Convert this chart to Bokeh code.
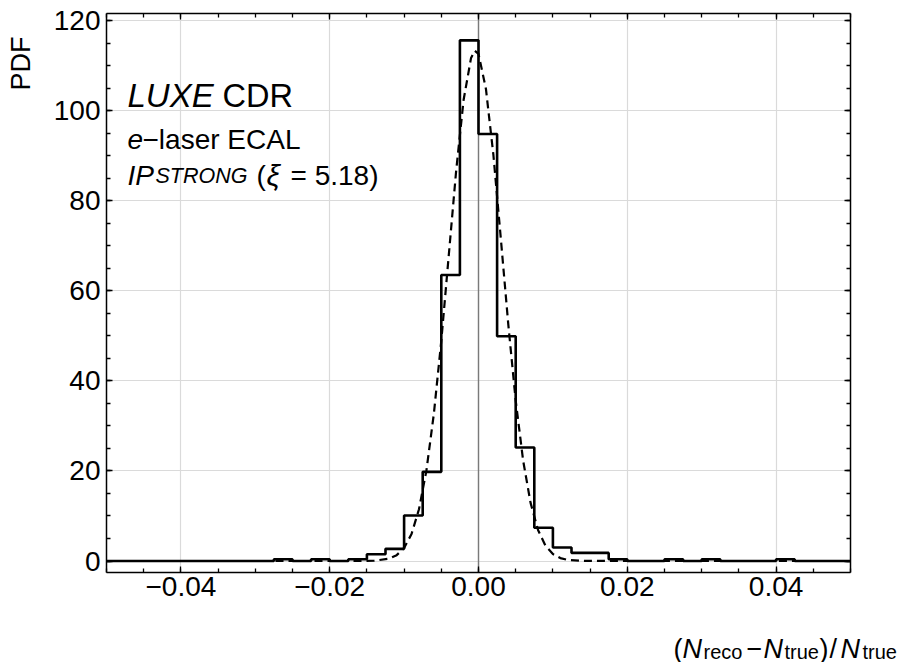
import numpy as np
from bokeh.plotting import figure
from bokeh.models import (Label, FixedTicker, LinearAxis, Range1d, Grid,
                          CustomJSTickFormatter)
from bokeh.embed import file_html
from bokeh.resources import INLINE

# ---------------- data ----------------
bin_start = -0.05
bin_width = 0.0025
pdf_values = [0, 0, 0, 0, 0, 0, 0, 0, 0, 0.4,
              0, 0.4, 0, 0.4, 1.5, 2.7, 10.1, 19.8, 63.5, 115.6,
              94.8, 49.9, 25.2, 7.4, 3.0, 1.8, 1.8, 0.4, 0, 0,
              0.4, 0, 0.4, 0, 0, 0, 0.4, 0, 0, 0]

fit_x = [-0.05, -0.02, -0.016, -0.014, -0.012, -0.011, -0.010, -0.009, -0.008, -0.007,
         -0.006, -0.005, -0.004, -0.003, -0.002, -0.001, -0.0005, 0.000, 0.001,
         0.002, 0.003, 0.004, 0.005, 0.006, 0.007, 0.008, 0.009, 0.010, 0.011,
         0.012, 0.014, 0.02, 0.05]
fit_y = [0, 0, 0.01, 0.07, 0.54, 1.3, 2.9, 6.0, 11.5, 20.1,
         32.7, 48.9, 67.8, 86.7, 102.4, 111.7, 113.3, 112.6, 104.8,
         90.2, 71.6, 52.6, 35.6, 22.3, 12.9, 6.9, 3.4, 1.55, 0.65,
         0.25, 0.03, 0, 0]

x_major = [-0.04, -0.02, 0.0, 0.02, 0.04]
y_major = [0, 20, 40, 60, 80, 100, 120]

# ---------------- geometry ----------------
FONT = "Liberation Sans"
W, H = 902, 662
X0, X1 = -0.05, 0.05          # plot box in data units
Y0, Y1 = -2.55, 121.56
BOX_L, BOX_R = 106, 850       # plot box in pixels
BOX_T, BOX_B = 13, 572
xpx = (BOX_R - BOX_L) / (X1 - X0)
ypx = (BOX_B - BOX_T) / (Y1 - Y0)
x_range = Range1d(X0 - BOX_L / xpx, X1 + (W - BOX_R) / xpx)
y_range = Range1d(Y0 - (H - BOX_B) / ypx, Y1 + BOX_T / ypx)

p = figure(width=W, height=H, output_backend="svg", toolbar_location=None,
           x_range=x_range, y_range=y_range, title=None,
           x_axis_type=None, y_axis_type=None,
           min_border_left=0, min_border_right=0, min_border_top=0,
           min_border_bottom=0)
p.outline_line_color = None
p.background_fill_color = "white"
p.border_fill_color = "white"

x_minor = [round(-0.05 + 0.005 * i, 4) for i in range(21)]
y_minor = [5 * i for i in range(25)]
xt = FixedTicker(ticks=x_major, minor_ticks=x_minor)
yt = FixedTicker(ticks=y_major, minor_ticks=y_minor)

xfmt = CustomJSTickFormatter(
    code="return (tick < -1e-9 ? '\u2212' : '') + Math.abs(tick).toFixed(2);")


def make_axis(ticker, loc, bounds, labels, fmt=None):
    kw = dict(ticker=ticker, fixed_location=loc, bounds=bounds)
    if fmt is not None:
        kw["formatter"] = fmt
    ax = LinearAxis(**kw)
    ax.axis_line_color = "black"
    ax.axis_line_width = 1.5
    ax.major_tick_in = 6
    ax.major_tick_out = 0
    ax.minor_tick_in = 4
    ax.minor_tick_out = 0
    ax.major_tick_line_color = "black"
    ax.minor_tick_line_color = "black"
    ax.major_tick_line_width = 1.3
    ax.minor_tick_line_width = 1.3
    if labels:
        ax.major_label_text_font = FONT
        ax.major_label_text_font_size = "28px"
        ax.major_label_text_color = "black"
    else:
        ax.major_label_text_color = None
        ax.major_label_standoff = 0
    return ax


bx = make_axis(xt, Y0, (X0, X1), True, xfmt)
bx.major_label_standoff = 4
tx = make_axis(xt, Y1, (X0, X1), False, xfmt)
ly = make_axis(yt, X0, (Y0, Y1), True)
ly.major_label_standoff = 6
ry = make_axis(yt, X1, (Y0, Y1), False)
p.add_layout(bx, "below")
p.add_layout(tx, "above")
p.add_layout(ly, "left")
p.add_layout(ry, "right")

p.add_layout(Grid(dimension=0, ticker=xt, bounds=(X0, X1), cross_bounds=(Y0, Y1),
                  grid_line_color="#dadada", grid_line_width=1.2))
p.add_layout(Grid(dimension=1, ticker=yt, bounds=(Y0, Y1), cross_bounds=(X0, X1),
                  grid_line_color="#dadada", grid_line_width=1.2))
p.add_layout(Grid(dimension=0, ticker=FixedTicker(ticks=[0.0]), cross_bounds=(Y0, Y1),
                  grid_line_color="#7a7a7a", grid_line_width=1.4))

# histogram outline (step)
edges = [bin_start + bin_width * i for i in range(len(pdf_values) + 1)]
p.step(x=edges, y=pdf_values + [pdf_values[-1]], mode="after",
       line_color="black", line_width=2.6)

# fitted curve
p.line(x=fit_x, y=fit_y, line_color="black", line_width=2.2, line_dash="8 5")


# ---------------- texts ----------------
def txt(s, px, py, size, style="normal", angle=0.0):
    p.add_layout(Label(x=px, y=H - py, x_units="screen", y_units="screen",
                       text=s, text_font=FONT, text_font_size=f"{size}px",
                       text_font_style=style, text_color="black",
                       text_baseline="alphabetic", text_align="left", angle=angle))


# y label
txt("PDF", 20, 90, 27, angle=np.pi / 2)

# annotation block
txt("LUXE", 127, 95, 33, "italic")
txt("CDR", 222, 95, 32.5)
txt("e", 127, 139, 28, "italic")
txt("\u2212laser ECAL", 142, 139, 28)
txt("IP", 127, 175, 28, "italic")
txt("STRONG", 155, 175, 21.5, "italic")
txt("(", 256, 175, 28)
txt("\u03be", 266, 175, 30, "italic")
txt("= 5.18)", 290, 175, 28)

# x label
txt("(", 673, 648, 27)
txt("N", 682, 648, 27, "italic")
txt("reco", 703, 651, 20)
txt("\u2212", 746, 648, 27)
txt("N", 763, 648, 27, "italic")
txt("true", 784, 651, 20)
txt(")", 819, 648, 27)
txt("/", 829, 648, 27)
txt("N", 840, 648, 27, "italic")
txt("true", 862, 651, 20)

open("out.html", "w").write(file_html(p, INLINE))
